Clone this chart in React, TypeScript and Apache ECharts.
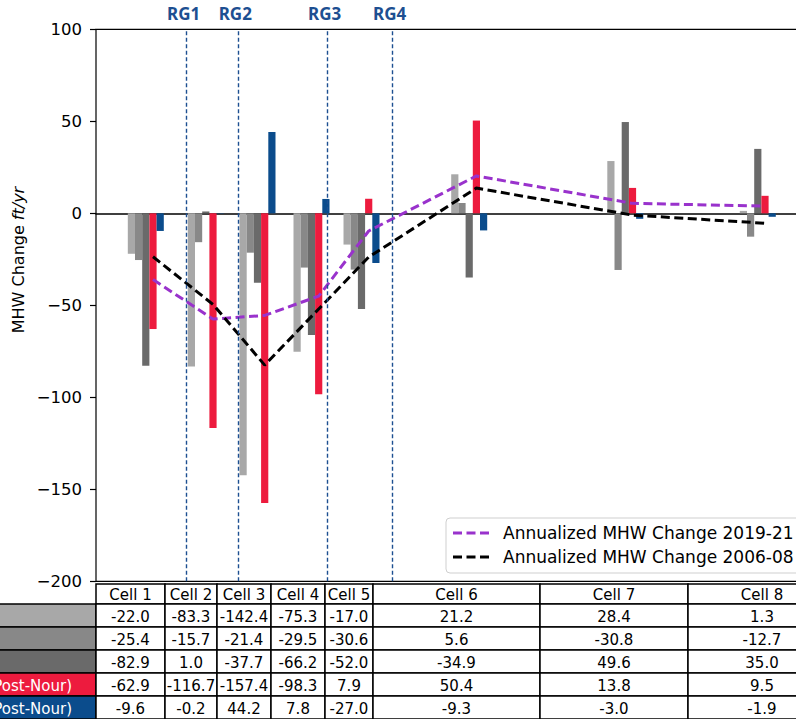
import React, { useEffect, useRef } from "react";
import * as echarts from "echarts";

// Cells along the shoreline and their x positions (uneven spacing)
const cells = ["Cell 1", "Cell 2", "Cell 3", "Cell 4", "Cell 5", "Cell 6", "Cell 7", "Cell 8"];
const cellX = [4.98, 10.98, 16.15, 21.55, 26.55, 37.32, 52.93, 66.18];

// MHW change per cell (ft/yr)
const changeA = [-22.0, -83.3, -142.4, -75.3, -17.0, 21.2, 28.4, 1.3];
const changeB = [-25.4, -15.7, -21.4, -29.5, -30.6, 5.6, -30.8, -12.7];
const changeC = [-82.9, 1.0, -37.7, -66.2, -52.0, -34.9, 49.6, 35.0];
const changePostNourRed = [-62.9, -116.7, -157.4, -98.3, 7.9, 50.4, 13.8, 9.5];
const changePostNourBlue = [-9.6, -0.2, 44.2, 7.8, -27.0, -9.3, -3.0, -1.9];

// Annualized trends
const annual2019 = [-36.0, -57.5, -55.5, -45.0, -9.6, 20.3, 5.4, 3.9];
const annual2006 = [-23.6, -49.5, -82.5, -52.0, -23.8, 13.7, -1.0, -5.4];

// Reference groin locations
const rgNames = ["RG1", "RG2", "RG3", "RG4"];
const rgX = [9.07, 14.23, 23.17, 29.67];

const yTicks = { min: -200, max: 100, step: 50 };

const FONT = "DejaVu Sans";
const BAR_W = 0.72;
const barColors = ["#a8a8a8", "#888888", "#6a6a6a", "#ed1b3e", "#0b4c8c"];
const rowLabels = ["", "", "", "(Post-Nour)", "(Post-Nour)"];

// Table layout (pixels)
const colEdges = [96, 165, 217, 271, 325, 373, 540, 688, 836];
const rowEdges = [584, 604, 627, 650, 673, 696, 719];

// dashed legend glyph: three dashes
const DASH_ICON = "path://M0 0H9V3H0Z M13.5 0H22.5V3H13.5Z M27 0H36V3H27Z";

export default function App() {
  const ref = useRef<HTMLDivElement>(null);

  useEffect(() => {
    if (!ref.current) return;
    const chart = echarts.init(ref.current, null, { renderer: "svg" });
    const barSets = [changeA, changeB, changeC, changePostNourRed, changePostNourBlue];

    const barSeries = barSets.map((vals, k) => ({
      type: "custom",
      name: "bars" + k,
      z: 2,
      data: vals.map((v, i) => [cellX[i], v]),
      renderItem: (params: any, api: any) => {
        const x = api.value(0) + (k - 2) * BAR_W;
        const y = api.value(1);
        const p0 = api.coord([x, 0]);
        const p1 = api.coord([x, y]);
        const w = api.size([BAR_W, 0])[0];
        return {
          type: "rect",
          shape: { x: p0[0] - w / 2, y: Math.min(p0[1], p1[1]), width: w, height: Math.abs(p1[1] - p0[1]) },
          style: { fill: barColors[k] },
        };
      },
    }));

    // Table below the plot
    const tableEls: any[] = [];
    const textStyle = (t: string, fill = "#000") => ({
      text: t,
      fill,
      fontSize: 15,
      fontFamily: FONT,
      textAlign: "center",
      textVerticalAlign: "middle",
    });
    cells.forEach((c, i) => {
      const x0 = colEdges[i], x1 = colEdges[i + 1];
      tableEls.push({
        type: "rect",
        shape: { x: x0, y: rowEdges[0], width: x1 - x0, height: rowEdges[1] - rowEdges[0] },
        style: { fill: "#fff", stroke: "#000", lineWidth: 1.5 },
      });
      tableEls.push({
        type: "text",
        x: (x0 + x1) / 2,
        y: (rowEdges[0] + rowEdges[1]) / 2 + 1,
        style: textStyle(c),
      });
    });
    barSets.forEach((vals, r) => {
      const y0 = rowEdges[r + 1], y1 = rowEdges[r + 2];
      tableEls.push({
        type: "rect",
        shape: { x: -120, y: y0, width: 216, height: y1 - y0 },
        style: { fill: barColors[r], stroke: "#000", lineWidth: 1.5 },
      });
      if (rowLabels[r]) {
        tableEls.push({
          type: "text",
          x: 72,
          y: (y0 + y1) / 2 + 1,
          style: { ...textStyle(rowLabels[r], "#fff"), textAlign: "right" },
        });
      }
      vals.forEach((v, i) => {
        const x0 = colEdges[i], x1 = colEdges[i + 1];
        tableEls.push({
          type: "rect",
          shape: { x: x0, y: y0, width: x1 - x0, height: y1 - y0 },
          style: { fill: "#fff", stroke: "#000", lineWidth: 1.5 },
        });
        tableEls.push({
          type: "text",
          x: (x0 + x1) / 2,
          y: (y0 + y1) / 2 + 1,
          style: textStyle(v.toFixed(1)),
        });
      });
    });

    const dash = [9, 4.5];

    chart.setOption({
      animation: false,
      backgroundColor: "#fff",
      grid: {
        left: 96,
        width: 710,
        top: 29.3,
        bottom: 137.7,
        outerBoundsMode: "none",
        containLabel: false,
        show: true,
        borderColor: "#000",
        borderWidth: 1.2,
        backgroundColor: "transparent",
      },
      xAxis: {
        type: "value",
        min: 0,
        max: 71,
        axisLine: { show: true, onZero: true, lineStyle: { color: "#000", width: 1.6 } },
        axisTick: { show: false },
        axisLabel: { show: false },
        splitLine: { show: false },
      },
      yAxis: {
        type: "value",
        min: yTicks.min,
        max: yTicks.max,
        interval: yTicks.step,
        axisLine: { show: false },
        axisTick: { show: true, length: 6, lineStyle: { color: "#000", width: 1.2 } },
        axisLabel: {
          margin: 14,
          fontSize: 16.5,
          fontFamily: FONT,
          color: "#000",
          formatter: (v: number) => (v < 0 ? "\u2212" + Math.abs(v) : String(v)),
        },
        splitLine: { show: false },
      },
      legend: {
        data: [
          { name: "Annualized MHW Change 2019-21", icon: DASH_ICON },
          { name: "Annualized MHW Change 2006-08", icon: DASH_ICON },
        ],
        orient: "vertical",
        left: 446,
        top: 518,
        padding: [5, 10, 6, 7],
        itemGap: 4,
        itemWidth: 36,
        itemHeight: 3,
        backgroundColor: "#fff",
        borderColor: "#cfcfcf",
        borderWidth: 1,
        borderRadius: 4,
        selectedMode: false,
        textStyle: { fontSize: 17, fontFamily: FONT, color: "#000", padding: [0, 0, 0, 9], lineHeight: 20 },
      },
      series: [
        ...barSeries,
        {
          type: "line",
          name: "Annualized MHW Change 2019-21",
          z: 4,
          symbol: "none",
          data: annual2019.map((v, i) => [cellX[i] + BAR_W, v]),
          lineStyle: { color: "#9932cc", width: 3, type: dash },
          itemStyle: { color: "#9932cc" },
        },
        {
          type: "line",
          name: "Annualized MHW Change 2006-08",
          z: 4,
          symbol: "none",
          data: annual2006.map((v, i) => [cellX[i] + BAR_W, v]),
          lineStyle: { color: "#000", width: 3, type: dash },
          itemStyle: { color: "#000" },
          markLine: {
            silent: true,
            symbol: ["none", "none"],
            animation: false,
            lineStyle: { color: "#1d4f91", width: 1.4, type: [4, 2.5] },
            label: {
              show: true,
              position: "end",
              formatter: "{b}",
              distance: 7,
              offset: [-3, 0],
              color: "#1d4f91",
              fontSize: 17,
              fontWeight: "bold",
              fontFamily: "Noto Sans",
            },
            data: rgX.map((x, i) => ({ xAxis: x, name: rgNames[i] })),
          },
        },
      ],
      graphic: [
        {
          type: "text",
          x: 18,
          y: 260,
          rotation: Math.PI / 2,
          style: {
            text: "{a|MHW Change }{b|ft/yr}",
            textAlign: "center",
            textVerticalAlign: "middle",
            fill: "#000",
            fontSize: 16,
            fontFamily: FONT,
            rich: {
              a: { fontSize: 16, fontFamily: FONT, fill: "#000" },
              b: { fontSize: 16, fontFamily: FONT, fontStyle: "italic", fill: "#000" },
            },
          },
        },
        ...tableEls,
      ],
    });

    return () => chart.dispose();
  }, []);

  return (
    <div
      ref={ref}
      style={{ position: "fixed", left: 0, top: 0, width: 796, height: 719, background: "#fff" }}
    />
  );
}
